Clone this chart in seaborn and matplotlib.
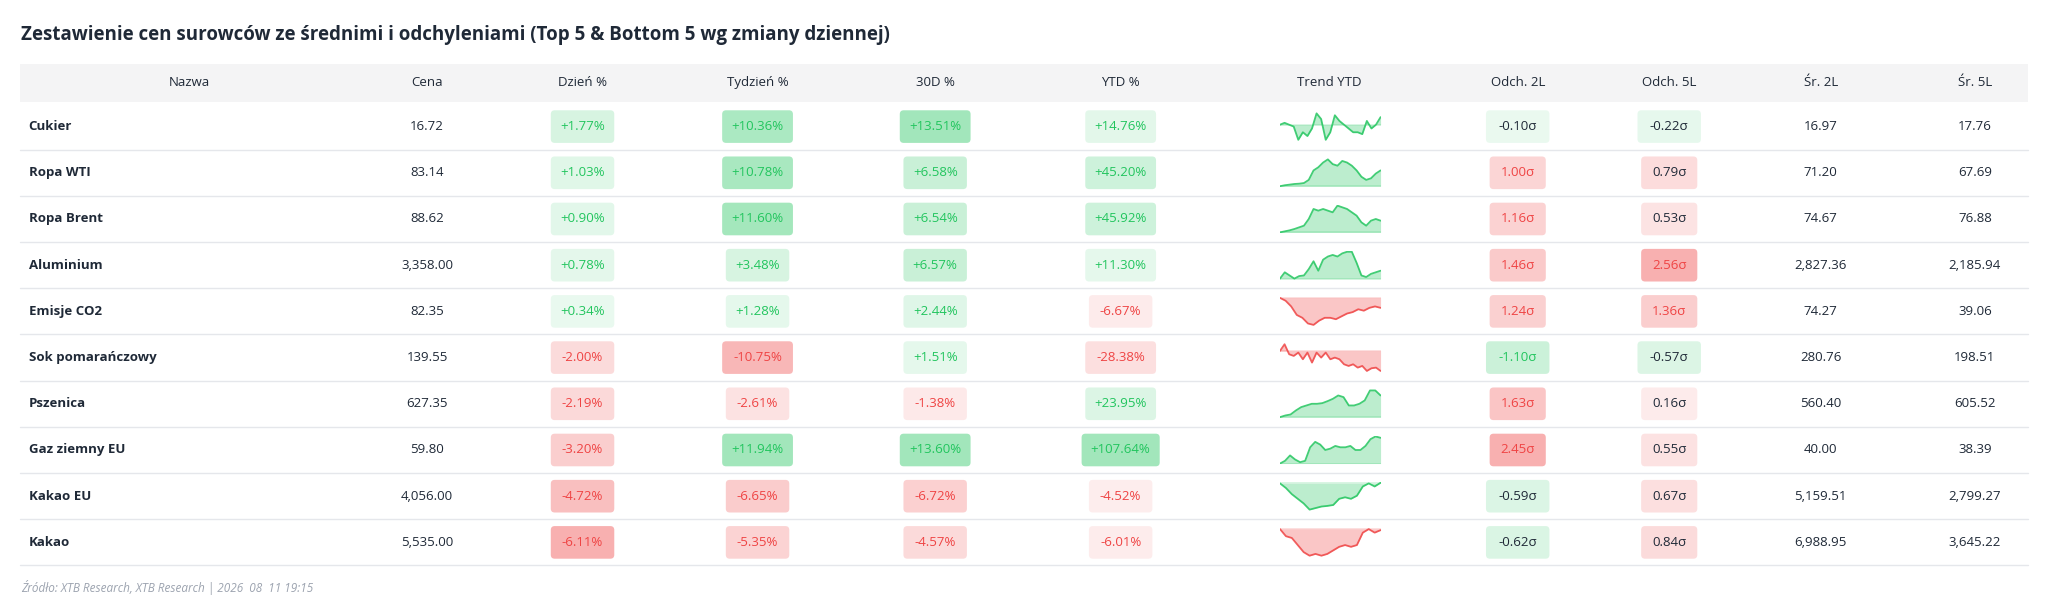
import matplotlib
matplotlib.use("Agg")
import matplotlib.pyplot as plt
from matplotlib.patches import FancyBboxPatch, Rectangle
import seaborn as sns
import pandas as pd

sns.set_theme(style="white")
plt.rcParams['font.family'] = ['Open Sans', 'DejaVu Sans']

names = ["Cukier", "Ropa WTI", "Ropa Brent", "Aluminium", "Emisje CO2", "Sok pomarańczowy",
         "Pszenica", "Gaz ziemny EU", "Kakao EU", "Kakao"]
price = ["16.72", "83.14", "88.62", "3,358.00", "82.35", "139.55", "627.35", "59.80", "4,056.00", "5,535.00"]
day = [1.77, 1.03, 0.90, 0.78, 0.34, -2.00, -2.19, -3.20, -4.72, -6.11]
week = [10.36, 10.78, 11.60, 3.48, 1.28, -10.75, -2.61, 11.94, -6.65, -5.35]
d30 = [13.51, 6.58, 6.54, 6.57, 2.44, 1.51, -1.38, 13.60, -6.72, -4.57]
ytd = [14.76, 45.20, 45.92, 11.30, -6.67, -28.38, 23.95, 107.64, -4.52, -6.01]
dev2 = [-0.10, 1.00, 1.16, 1.46, 1.24, -1.10, 1.63, 2.45, -0.59, -0.62]
dev5 = [-0.22, 0.79, 0.53, 2.56, 1.36, -0.57, 0.16, 0.55, 0.67, 0.84]
avg2 = ["16.97", "71.20", "74.67", "2,827.36", "74.27", "280.76", "560.40", "40.00", "5,159.51", "6,988.95"]
avg5 = ["17.76", "67.69", "76.88", "2,185.94", "39.06", "198.51", "605.52", "38.39", "2,799.27", "3,645.22"]
trends = [
    [6, 6.5, 6, 5.5, 2, 4, 3, 5, 9, 7.5, 2, 4, 8.5, 7, 6, 5, 4, 4, 3.5, 7, 5, 6, 8],
    [0, 0.3, 0.5, 0.7, 0.8, 1, 2, 5, 6, 7.5, 8.5, 7, 6.5, 8, 7.5, 6.5, 5, 3, 2, 2.5, 4, 5],
    [0, 0.3, 0.6, 1, 1.5, 2, 4, 7, 6.5, 7, 6.5, 6, 8, 7.5, 7, 6, 5, 3, 2, 3.5, 4, 3.5],
    [0, 2, 1, 0, 0.8, 1, 3, 5.5, 2.5, 6, 7, 7.5, 7, 8, 8.5, 8.5, 5, 1, 0.5, 1.5, 2, 2.5],
    [10, 9, 7, 4, 3, 1, 0.5, 2, 3, 3, 2.5, 3.5, 4.5, 5, 6, 5.5, 6.5, 7, 6.5],
    [6, 8, 5, 4.5, 5.5, 3.5, 5.5, 2.5, 5.5, 4, 5.5, 3.5, 4, 3.5, 2, 1.5, 2, 1, 1.5, 0, 0.8, 1, 0],
    [0, 0.5, 0.8, 2, 3, 3.5, 4, 4, 4.2, 4.8, 5.5, 6.5, 6, 3.5, 3.5, 4, 5, 8, 8, 6.5],
    [0, 1, 3, 1.5, 0.5, 1, 6, 8, 7, 5, 5.5, 6.5, 6, 6, 6.5, 5, 5, 6.5, 9, 10, 9.5],
    [10, 8.5, 6.5, 5, 3.5, 1.5, 2, 2.5, 2.7, 3, 5, 5.5, 5, 6, 9, 10, 9, 10.2],
    [10, 8, 7.5, 5.5, 3.5, 2.5, 3, 2.5, 3, 4, 5, 5.5, 5, 5.5, 9, 10, 9, 9.7],
]
headers = ["Nazwa", "Cena", "Dzień %", "Tydzień %", "30D %", "YTD %", "Trend YTD",
           "Odch. 2L", "Odch. 5L", "Śr. 2L", "Śr. 5L"]

W, H = 1568, 472
fig = plt.figure(figsize=(20.48, 6.16), dpi=100)
ax = fig.add_axes([0, 0, 1, 1])
ax.set_xlim(0, W)
ax.set_ylim(H, 0)
ax.axis("off")

GREEN, RED, DARK = "#22c55e", "#ef4444", "#1f2937"
FS = 9.5
col_x = [145, 327, 446, 580, 716, 858, 1018, 1162, 1278, 1394, 1512]
x0, x1 = 15, 1553
hy0, hy1 = 49, 78
row0, dy = 97, 35.4

ax.text(16, 27, "Zestawienie cen surowców ze średnimi i odchyleniami (Top 5 & Bottom 5 wg zmiany dziennej)",
        fontsize=13.5, fontweight="bold", color="#1f2937", va="center", ha="left")
ax.add_patch(Rectangle((x0, hy0), x1 - x0, hy1 - hy0, color="#f4f4f5", lw=0))
for h, cx in zip(headers, col_x):
    ax.text(cx, (hy0 + hy1) / 2, h, fontsize=FS, ha="center", va="center", color=DARK)


def badge(cx, cy, txt, val, vmax, pct=True, colored_text=True):
    pos = val >= 0
    if pct:
        c = GREEN if pos else RED
    else:
        c = RED if pos else GREEN
    alpha = 0.08 + 0.34 * abs(val) / vmax
    w = 15 + 5.6 * len(txt)
    h = 25
    ax.add_patch(FancyBboxPatch((cx - w / 2, cy - h / 2), w, h,
                                boxstyle="round,pad=0,rounding_size=3",
                                facecolor=c, alpha=alpha, lw=0))
    tc = c if colored_text else DARK
    ax.text(cx, cy, txt, fontsize=FS, ha="center", va="center", color=tc)


for i in range(len(names)):
    cy = row0 + dy * i
    ax.plot([x0, x1], [cy + dy / 2, cy + dy / 2], color="#e5e7eb", lw=1)
    ax.text(22, cy, names[i], fontsize=FS, fontweight="bold", ha="left", va="center", color=DARK)
    ax.text(col_x[1], cy, price[i], fontsize=FS, ha="center", va="center", color=DARK)
    for j, arr in zip([2, 3, 4, 5], [day, week, d30, ytd]):
        vmax = max(abs(v) for v in arr)
        badge(col_x[j], cy, f"{arr[i]:+.2f}%", arr[i], vmax)
    for j, arr in zip([7, 8], [dev2, dev5]):
        vmax = max(abs(v) for v in arr)
        badge(col_x[j], cy, f"{arr[i]:.2f}σ", arr[i], vmax, pct=False,
              colored_text=abs(arr[i]) >= 1)
    ax.text(col_x[9], cy, avg2[i], fontsize=FS, ha="center", va="center", color=DARK)
    ax.text(col_x[10], cy, avg5[i], fontsize=FS, ha="center", va="center", color=DARK)

    # sparkline
    t = trends[i]
    sx0, sw, sh = 980, 77, 22
    iax = fig.add_axes([sx0 / W, 1 - (cy + sh / 2) / H, sw / W, sh / H])
    df = pd.DataFrame({"x": range(len(t)), "y": t})
    c = GREEN if t[-1] >= t[0] else RED
    sns.lineplot(data=df, x="x", y="y", ax=iax, color=c, lw=1.3, alpha=0.85)
    iax.fill_between(df["x"], df["y"], t[0], color=c, alpha=0.3, lw=0)
    iax.axhline(t[0], color=c, alpha=0.2, lw=1.2)
    iax.set_xlim(0, len(t) - 1)
    iax.set_ylim(min(t) - 0.3, max(t) + 0.3)
    iax.axis("off")

ax.text(16, 450, "Źródło: XTB Research, XTB Research | 2026  08  11 19:15", fontsize=8.5,
        style="italic", color="#9ca3af", ha="left", va="center")

fig.savefig("out.png", dpi=100)
